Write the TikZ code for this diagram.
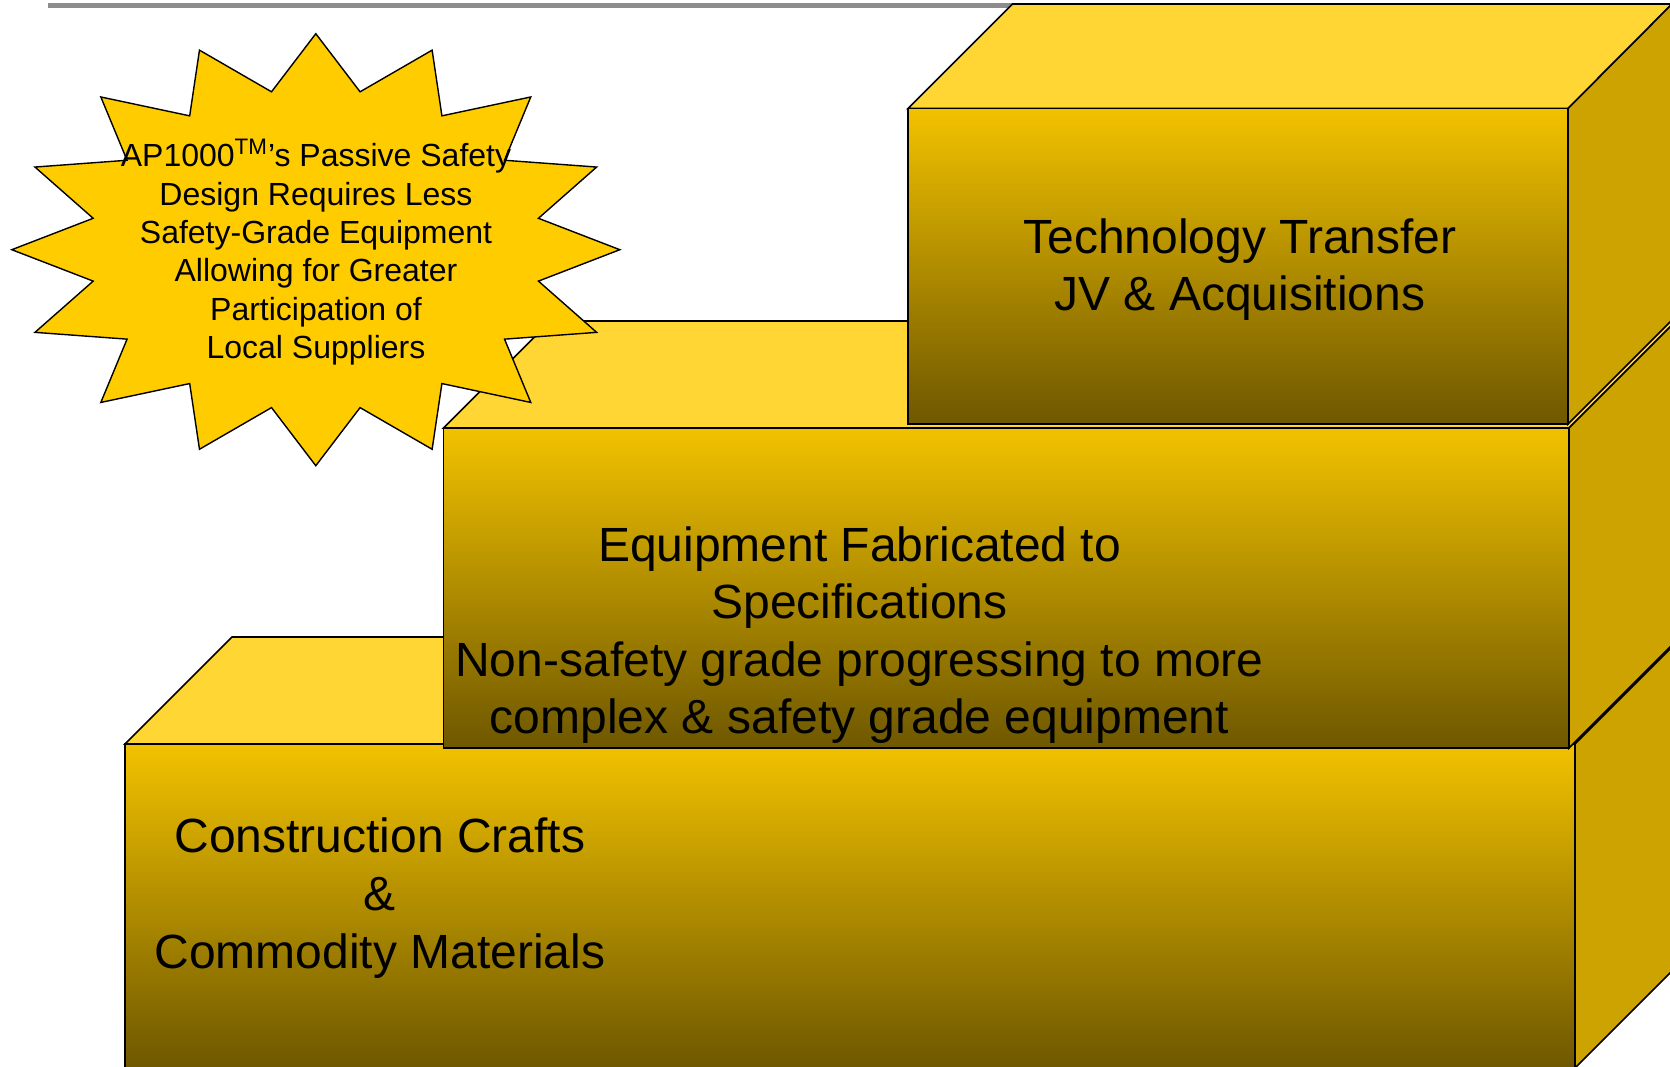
\documentclass[tikz,border=0pt]{standalone}
\usepackage{fontspec}
\setmainfont{Liberation Sans}
\definecolor{topface}{HTML}{FFD633}
\definecolor{sideface}{HTML}{CCA300}
\definecolor{fronttop}{HTML}{F2C200}
\definecolor{frontbot}{HTML}{6E5700}
\definecolor{burstfill}{HTML}{FFCC00}
\definecolor{rulegray}{HTML}{8C8C8C}
\tikzset{
  face/.style={draw=black, line width=0.8pt, line join=miter},
  topf/.style={face, fill=topface},
  sidef/.style={face, fill=sideface},
  frontf/.style={face, top color=fronttop, bottom color=frontbot},
  burst/.style={draw=black, line width=0.7pt, fill=burstfill, line join=miter},
  boxtext/.style={align=center, font=\fontsize{24}{28.8}\selectfont, inner sep=0pt},
  bursttext/.style={align=center, font=\fontsize{16}{19.2}\selectfont, inner sep=0pt},
}
\begin{document}
\begin{tikzpicture}[x=0.5pt,y=-0.5pt]
\useasboundingbox (0,0) rectangle (1670,1066);
\clip (0,0) rectangle (1670,1066);
\fill[white] (0,0) rectangle (1670,1066);
% top rule
\coordinate (ruleA) at (48,5);
\coordinate (ruleB) at (1015,5);
\draw[rulegray, line width=2.5pt] (ruleA) -- (ruleB);
% bottom box
\draw[topf] (125,744) -- (232,637) -- (1682,637) -- (1575,744) -- cycle;
\draw[sidef] (1575,744) -- (1682,637) -- (1682,961) -- (1575,1068) -- cycle;
\draw[frontf] (125,744) rectangle (1575,1068);
% middle box
\draw[topf] (443.5,428) -- (550.5,321) -- (1676,321) -- (1569,428) -- cycle;
\draw[sidef] (1569,428) -- (1676,321) -- (1676,641) -- (1569,748) -- cycle;
\draw[frontf] (443.5,428) rectangle (1569,748);
% top box
\draw[topf] (908,108.5) -- (1012.5,4) -- (1672,4) -- (1568,108.5) -- cycle;
\draw[sidef] (1568,108.5) -- (1672,4) -- (1672,320) -- (1568,424) -- cycle;
\draw[frontf] (908,108.5) rectangle (1568,424);
% texts on boxes
\node[boxtext] (tech) at (1240,269.5) {Technology Transfer\\JV \& Acquisitions};
\node[boxtext] (equip) at (859.5,635) {Equipment Fabricated to\\Specifications\\Non-safety grade progressing to more\\complex \& safety grade equipment};
\node[boxtext] (constr) at (380,898) {Construction Crafts\\\&\\Commodity Materials};
% starburst
\begin{scope}[shift={(315.8,249.7)}]
\draw[burst] (0:304 and 216) \foreach \k in {0,...,15}{ -- (\k*22.5+11.25:227 and 161) -- (\k*22.5+22.5:304 and 216)} -- cycle;
\end{scope}
\node[bursttext] (bursttxt) at (316,252) {AP1000\textsuperscript{TM}’s Passive Safety\\Design Requires Less\\Safety-Grade Equipment\\Allowing for Greater\\Participation of\\Local Suppliers};
\end{tikzpicture}
\end{document}
